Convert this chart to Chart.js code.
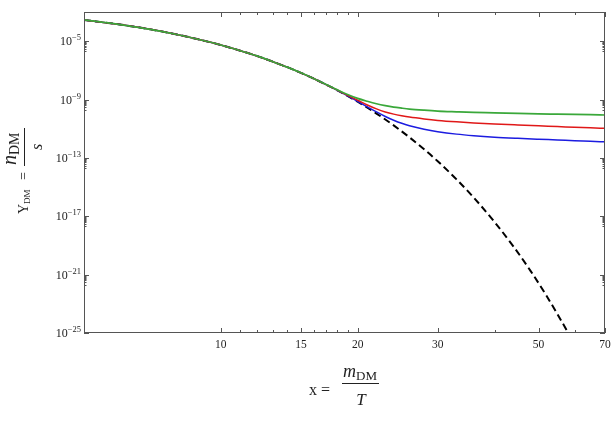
<!DOCTYPE html>
<html>
<head>
<meta charset="utf-8">
<script src="https://cdn.jsdelivr.net/npm/chart.js@4"></script>
<style>
  body { margin: 0; background: #fff; }
  canvas { display: block; }
</style>
</head>
<body>
<canvas id="grafico" width="612" height="422"></canvas>
<script>
const xEq = [5, 6, 7, 8, 9, 10, 11, 12, 13, 14, 15, 16, 17, 18, 19, 20, 22, 24, 26, 28, 30, 33, 36, 40, 44, 48, 52, 55, 58, 59];
const eqExp = [-3.54, -3.86, -4.19, -4.54, -4.90, -5.26, -5.64, -6.01, -6.40, -6.78, -7.17, -7.56, -7.96, -8.35, -8.75, -9.15,
  -9.96, -10.77, -11.59, -12.41, -13.23, -14.47, -15.72, -17.39, -19.06, -20.74, -22.43, -23.70, -24.96, -25.39];

const xFo = [5, 6, 7, 8, 9, 10, 11, 12, 13, 14, 15, 16, 17, 18, 19, 20, 21, 22, 23, 24, 25, 26, 28, 30, 33, 36, 40, 45, 50, 55, 60, 65, 70];
const greenExp = [-3.54, -3.86, -4.19, -4.54, -4.90, -5.26, -5.64, -6.01, -6.40, -6.78, -7.17, -7.56, -7.95, -8.32, -8.65, -8.92,
  -9.12, -9.29, -9.42, -9.52, -9.59, -9.65, -9.73, -9.79, -9.84, -9.88, -9.91, -9.95, -9.98, -10.00, -10.02, -10.04, -10.06];
const redExp = [-3.54, -3.86, -4.19, -4.54, -4.90, -5.26, -5.64, -6.01, -6.40, -6.78, -7.17, -7.56, -7.96, -8.34, -8.71, -9.05,
  -9.37, -9.64, -9.85, -10.00, -10.11, -10.20, -10.33, -10.43, -10.53, -10.60, -10.67, -10.74, -10.80, -10.85, -10.90, -10.94, -10.97];
const blueExp = [-3.54, -3.86, -4.19, -4.54, -4.90, -5.26, -5.64, -6.01, -6.40, -6.78, -7.17, -7.56, -7.96, -8.35, -8.74, -9.13,
  -9.50, -9.85, -10.16, -10.42, -10.63, -10.79, -11.03, -11.20, -11.37, -11.48, -11.58, -11.66, -11.72, -11.77, -11.82, -11.86, -11.90];

// axis ticks
const xMajor = [10, 15, 20, 30, 50, 70];
const xMinor = [11, 12, 13, 14, 16, 17, 18, 19, 40, 60];
const yMajorExp = [-25, -21, -17, -13, -9, -5];

const pts = (xs, es) => xs.map((x, i) => ({ x: x, y: Math.pow(10, es[i]) }));

const SERIF = '"Liberation Serif", "DejaVu Serif", serif';

// draws text rotated -90deg, starting at screen (sx, sy) going upward
function textUp(ctx, str, font, sx, sy) {
  ctx.save();
  ctx.font = font;
  ctx.translate(sx, sy);
  ctx.rotate(-Math.PI / 2);
  ctx.textAlign = 'left';
  ctx.textBaseline = 'alphabetic';
  ctx.fillText(str, 0, 0);
  const w = ctx.measureText(str).width;
  ctx.restore();
  return w;
}

const moldura = {
  id: 'moldura',
  afterDraw(chart) {
    const { ctx, chartArea: a, scales: { x, y } } = chart;
    ctx.save();
    ctx.strokeStyle = '#555';
    ctx.lineWidth = 1;
    ctx.strokeRect(a.left + 0.5, a.top + 0.5, a.right - a.left - 1, a.bottom - a.top - 1);

    // x ticks, bottom and top, pointing inwards
    ctx.beginPath();
    xMajor.concat(xMinor).forEach(v => {
      const px = Math.round(x.getPixelForValue(v)) + 0.5;
      const len = xMajor.includes(v) ? 5 : 3;
      ctx.moveTo(px, a.bottom); ctx.lineTo(px, a.bottom - len);
      ctx.moveTo(px, a.top); ctx.lineTo(px, a.top + len);
    });
    // y ticks, left and right
    yMajorExp.forEach(e => {
      const py = Math.round(y.getPixelForValue(Math.pow(10, e))) + 0.5;
      ctx.moveTo(a.left, py); ctx.lineTo(a.left + 5, py);
      ctx.moveTo(a.right, py); ctx.lineTo(a.right - 5, py);
      for (let k = 2; k <= 9; k++) {
        const v = k * Math.pow(10, e - 1);
        if (v < 1e-25) continue;
        const pm = Math.round(y.getPixelForValue(v)) + 0.5;
        ctx.moveTo(a.left, pm); ctx.lineTo(a.left + 2.5, pm);
        ctx.moveTo(a.right, pm); ctx.lineTo(a.right - 2.5, pm);
      }
    });
    ctx.stroke();

    ctx.fillStyle = '#222';
    // x tick labels
    ctx.font = '11.5px ' + SERIF;
    ctx.textAlign = 'center';
    ctx.textBaseline = 'alphabetic';
    xMajor.forEach(v => {
      ctx.fillText(String(v), x.getPixelForValue(v), 348);
    });

    // y tick labels 10^e
    yMajorExp.forEach(e => {
      const py = y.getPixelForValue(Math.pow(10, e));
      const exp = '\u2212' + Math.abs(e);
      ctx.font = '8.5px ' + SERIF;
      const we = ctx.measureText(exp).width;
      ctx.textAlign = 'right';
      ctx.fillText(exp, 81, py - 1);
      ctx.font = '12px ' + SERIF;
      ctx.fillText('10', 81 - we, py + 4);
    });

    // y title: Y_DM = n_DM / s
    ctx.fillStyle = '#222';
    let w = textUp(ctx, 'Y', '14px ' + SERIF, 28, 214);
    textUp(ctx, 'DM', '9px ' + SERIF, 30, 214 - w);
    textUp(ctx, '=', '14px ' + SERIF, 28, 180);
    w = textUp(ctx, 'n', 'italic 20px ' + SERIF, 16, 165);
    textUp(ctx, 'DM', '14px ' + SERIF, 19, 165 - w);
    textUp(ctx, 's', 'italic 16px ' + SERIF, 42, 150);
    ctx.strokeStyle = '#222';
    ctx.beginPath();
    ctx.moveTo(24.5, 128); ctx.lineTo(24.5, 166);
    ctx.stroke();

    // x title: x = m_DM / T
    ctx.textAlign = 'left';
    ctx.font = '16px ' + SERIF;
    ctx.fillText('x', 309, 395);
    ctx.fillText('=', 321, 395);
    ctx.font = 'italic 18px ' + SERIF;
    ctx.fillText('m', 343, 377);
    const wm = ctx.measureText('m').width;
    ctx.font = '13px ' + SERIF;
    ctx.fillText('DM', 343 + wm, 380);
    ctx.font = 'italic 17px ' + SERIF;
    ctx.textAlign = 'center';
    ctx.fillText('T', 361, 405);
    ctx.beginPath();
    ctx.moveTo(342, 383.5); ctx.lineTo(379, 383.5);
    ctx.stroke();
    ctx.restore();
  }
};

const ctx = document.getElementById('grafico').getContext('2d');
new Chart(ctx, {
  type: 'line',
  data: {
    datasets: [{
      data: pts(xFo, greenExp),
      borderColor: '#3aa83a',
      borderWidth: 1.7,
      order: 0
    }, {
      data: pts(xFo, redExp),
      borderColor: '#e01818',
      borderWidth: 1.5,
      order: 1
    }, {
      data: pts(xFo, blueExp),
      borderColor: '#1c1ce0',
      borderWidth: 1.5,
      order: 2
    }, {
      data: pts(xEq, eqExp),
      borderColor: '#000',
      borderWidth: 2,
      borderDash: [7, 4],
      order: 3
    }]
  },
  options: {
    responsive: false,
    animation: false,
    layout: { padding: { top: 12, right: 7, left: 0, bottom: 0 } },
    elements: {
      point: { radius: 0 },
      line: { cubicInterpolationMode: 'monotone', fill: false }
    },
    plugins: { legend: { display: false }, tooltip: { enabled: false } },
    scales: {
      x: {
        type: 'logarithmic', min: 5, max: 70, bounds: 'data',
        ticks: { display: false }, grid: { display: false }, border: { display: false },
        afterFit: s => { s.height = 89; }
      },
      y: {
        type: 'logarithmic', min: 1e-25, max: 1e-3, bounds: 'data',
        ticks: { display: false }, grid: { display: false }, border: { display: false },
        afterFit: s => { s.width = 84; }
      }
    }
  },
  plugins: [moldura]
});
</script>
</body>
</html>
